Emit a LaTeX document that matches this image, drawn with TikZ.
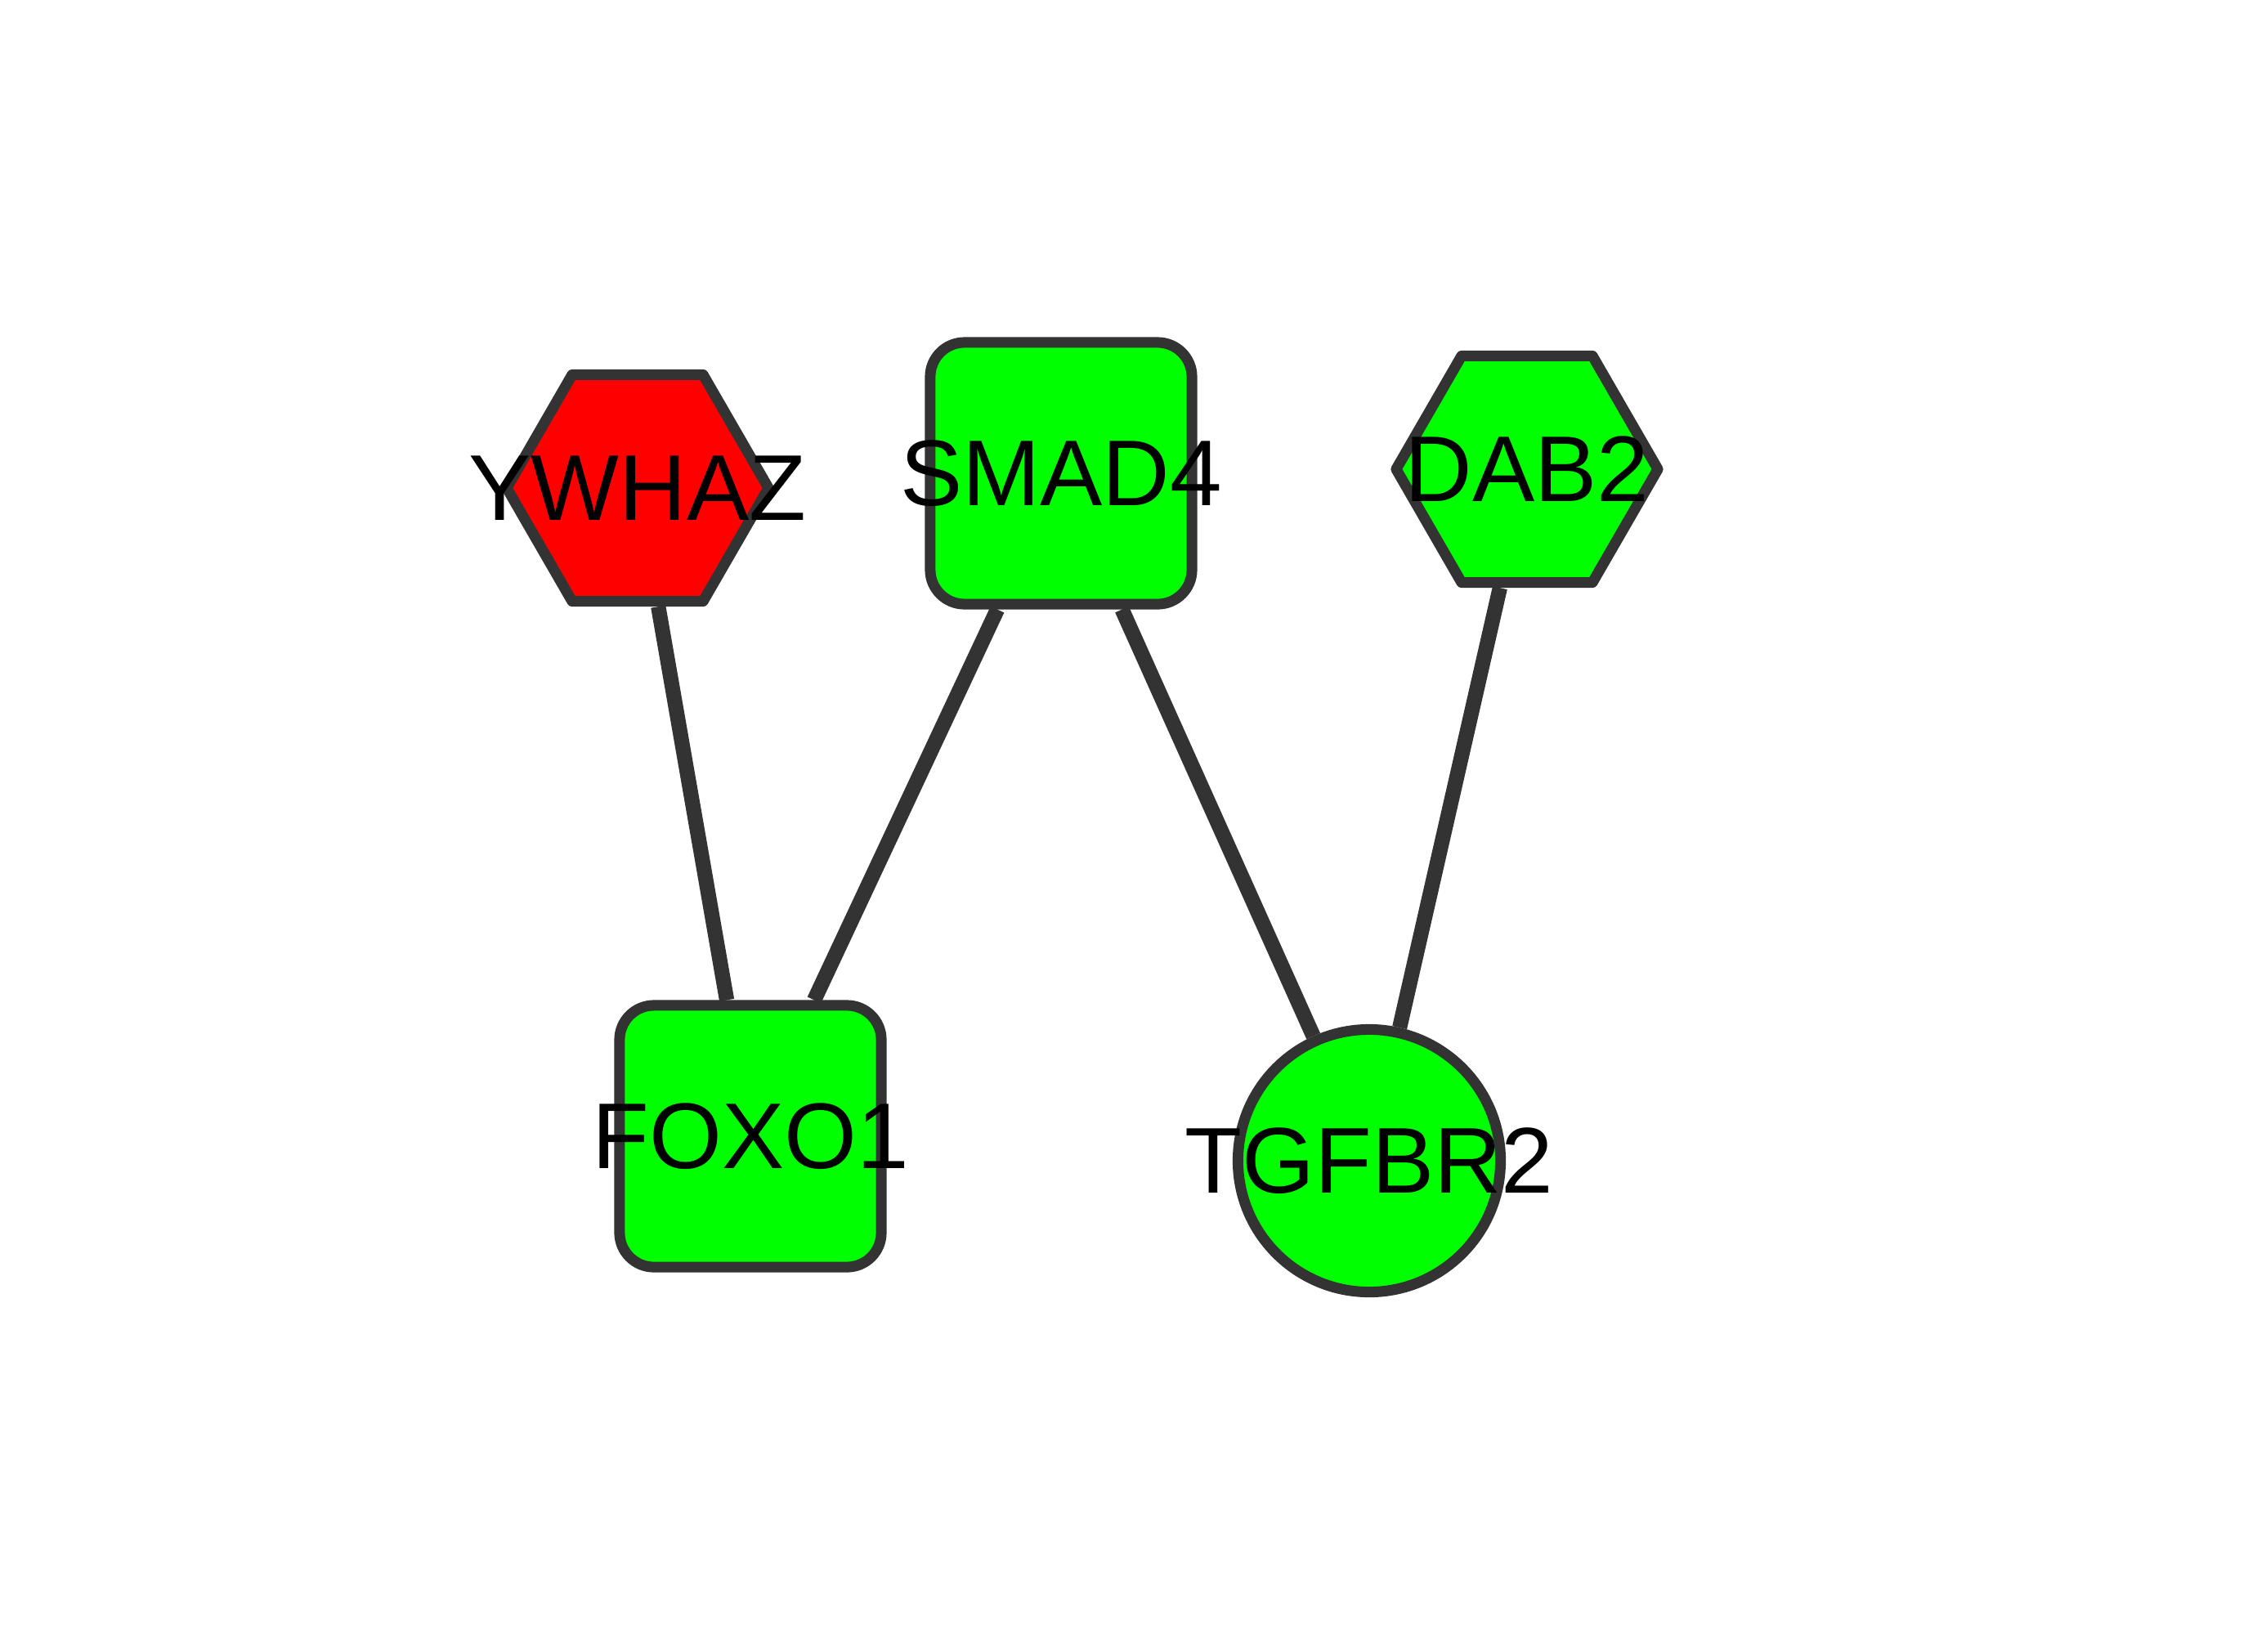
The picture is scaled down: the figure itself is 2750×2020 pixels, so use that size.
\documentclass[tikz,border=0pt]{standalone}
\usepackage{fontspec}
\setmainfont{Liberation Sans}
\usetikzlibrary{shapes.geometric}
\definecolor{edgegray}{HTML}{333333}
\definecolor{nodegreen}{HTML}{00FF00}
\definecolor{nodered}{HTML}{FF0000}
\tikzset{
  gene/.style={draw=edgegray, line width=3.7pt, line join=round, inner sep=0pt},
  hexnode/.style={gene, regular polygon, regular polygon sides=6, minimum size=3.2cm},
  boxnode/.style={gene, rectangle, rounded corners=0.42cm, minimum width=3.2cm, minimum height=3.2cm},
  roundnode/.style={gene, circle, minimum size=3.21cm},
  genelabel/.style={font=\fontsize{32.5}{39}\selectfont, inner sep=0pt, outer sep=0pt},
  link/.style={draw=edgegray, line width=5.2pt}
}
\begin{document}
\begin{tikzpicture}[x=0.01cm, y=-0.01cm]
\useasboundingbox (0,0) rectangle (2750,2020);
% top row of genes
\node[hexnode, fill=nodered, label={[genelabel]center:YWHAZ}] (ywhaz) at (780,597) {};
\node[boxnode, fill=nodegreen, label={[genelabel]center:SMAD4}] (smad4) at (1298,579) {};
\node[hexnode, fill=nodegreen, label={[genelabel]center:DAB2}] (dab2) at (1868,574) {};
% bottom row
\node[boxnode, fill=nodegreen, label={[genelabel]center:FOXO1}] (foxo1) at (918,1390) {};
\node[roundnode, fill=nodegreen, label={[genelabel]center:TGFBR2}] (tgfbr2) at (1675,1420) {};
% interactions
\draw[link] (ywhaz) -- (foxo1);
\draw[link] (smad4) -- (foxo1);
\draw[link] (smad4) -- (tgfbr2);
\draw[link] (dab2) -- (tgfbr2);
\end{tikzpicture}
\end{document}
